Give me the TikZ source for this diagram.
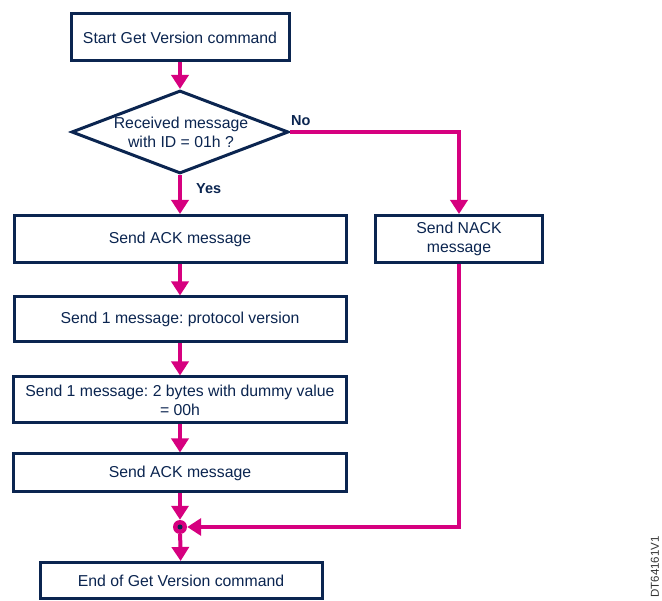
\documentclass[tikz,border=0pt]{standalone}
\usepackage{fontspec}
\setmainfont{Liberation Sans}
\frenchspacing
\usetikzlibrary{shapes.geometric,arrows.meta}
\definecolor{navy}{HTML}{0B2550}
\definecolor{pinkline}{HTML}{D6007F}
\tikzset{
  x=1pt,y=-1pt,
  box/.style={draw=navy,line width=3pt,fill=white,text=navy,align=center,inner sep=2pt,
    font=\fontsize{15.8}{19}\selectfont},
  flow/.style={draw=pinkline,line width=4pt,-{Triangle[width=17pt,length=14pt]}},
  lbl/.style={text=navy,font=\fontsize{14.5}{17}\selectfont\bfseries,inner sep=0pt},
}
\begin{document}
\begin{tikzpicture}
\useasboundingbox (0,0) rectangle (662,601);
\node[box,minimum width=218,minimum height=47] (start) at (180,37.5) {Start Get Version command};
\node[diamond,draw=navy,line width=3pt,fill=white,minimum width=217,minimum height=83,shape aspect=2.6,inner sep=0pt] (dia) at (180,132) {};
\node[text=navy,align=center,font=\fontsize{15.8}{19}\selectfont] (diatext) at (181,132) {Received message\\with ID = 01h ?};
\node[box,minimum width=332,minimum height=47] (ack1) at (180,239) {Send ACK message};
\node[box,minimum width=167,minimum height=47] (nack) at (459,239) {Send NACK\\message};
\node[box,minimum width=332,minimum height=45] (proto) at (180,319.5) {Send 1 message: protocol version};
\node[box,minimum width=333,minimum height=46] (dummy) at (180,400) {Send 1 message: 2 bytes with dummy value\\= 00h};
\node[box,minimum width=333,minimum height=38] (ack2) at (180,473) {Send ACK message};
\node[box,minimum width=282,minimum height=36] (endb) at (181,580.5) {End of Get Version command};
\node[circle,fill=pinkline,minimum size=14pt,inner sep=0pt] (j) at (180,527) {};
\fill[navy] (j.center) circle (2.5pt);
\node[lbl,anchor=west] (no) at (291,121) {No};
\node[lbl,anchor=west] (yes) at (196,189) {Yes};
\node[rotate=90,anchor=east,inner sep=0pt,text=black!80,font=\fontsize{11.5}{13}\selectfont] (ref) at (655,536) {DT64161V1};
\draw[flow] (start) -- (dia);
\draw[flow] (dia) -- (ack1);
\draw[flow] (dia.east) -| (nack.north);
\draw[flow] (ack1) -- (proto);
\draw[flow] (proto) -- (dummy);
\draw[flow] (dummy) -- (ack2);
\draw[flow] (ack2) -- (j);
\draw[flow] (j) -- (endb);
\draw[flow] (nack.south) |- (j);
\end{tikzpicture}
\end{document}
